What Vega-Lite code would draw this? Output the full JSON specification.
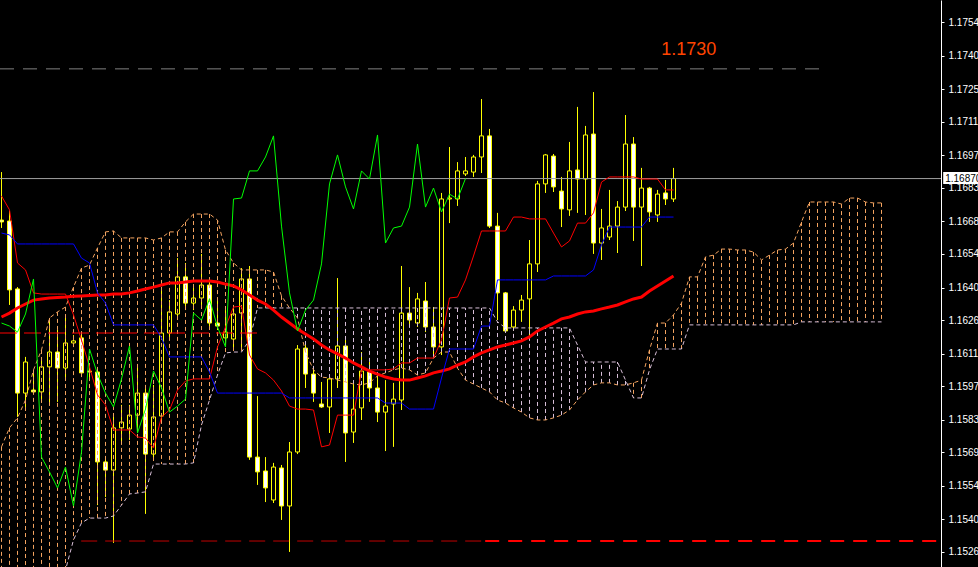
{
"$schema":"https://vega.github.io/schema/vega-lite/v6.json",
"width":941,"height":567,"autosize":"none",
"padding":{"left":0,"top":0,"right":37,"bottom":0},
"background":"#000000",
"config":{"view":{"stroke":null},"font":"Liberation Sans"},
"resolve":{"axis":{"y":"independent","x":"independent"}},
"datasets":{
"bars":[
{"k":0,"o":1.16691,"h":1.16898,"l":1.16657,"c":1.16683,"t":1.16795,"kj":1.16635,"ma":1.16273,"ch":1.16247},
{"k":1,"o":1.16687,"h":1.16730,"l":1.16325,"c":1.16390,"t":1.16735,"kj":1.16627,"ma":1.16290,"ch":1.16234},
{"k":2,"o":1.16394,"h":1.16402,"l":1.15842,"c":1.15945,"t":1.16506,"kj":1.16588,"ma":1.16312,"ch":1.16208},
{"k":3,"o":1.15945,"h":1.16101,"l":1.15885,"c":1.16079,"t":1.16476,"kj":1.16588,"ma":1.16329,"ch":1.16286},
{"k":4,"o":1.15958,"h":1.16036,"l":1.15945,"c":1.15950,"t":1.16377,"kj":1.16588,"ma":1.16346,"ch":1.16437},
{"k":5,"o":1.15950,"h":1.16088,"l":1.15907,"c":1.16058,"t":1.16372,"kj":1.16588,"ma":1.16351,"ch":1.15669},
{"k":6,"o":1.16058,"h":1.16260,"l":1.15902,"c":1.16122,"t":1.16372,"kj":1.16588,"ma":1.16355,"ch":1.15605},
{"k":7,"o":1.16122,"h":1.16217,"l":1.15907,"c":1.16053,"t":1.16372,"kj":1.16588,"ma":1.16357,"ch":1.15536},
{"k":8,"o":1.16053,"h":1.16282,"l":1.16001,"c":1.16161,"t":1.16372,"kj":1.16588,"ma":1.16359,"ch":1.15626},
{"k":9,"o":1.16161,"h":1.16195,"l":1.16152,"c":1.16170,"t":1.16282,"kj":1.16588,"ma":1.16362,"ch":1.15458},
{"k":10,"o":1.16183,"h":1.16204,"l":1.16019,"c":1.16032,"t":1.16174,"kj":1.16527,"ma":1.16364,"ch":1.15691},
{"k":11,"o":1.16040,"h":1.16066,"l":1.16010,"c":1.16036,"t":1.16058,"kj":1.16506,"ma":1.16366,"ch":1.16135},
{"k":12,"o":1.16036,"h":1.16053,"l":1.15462,"c":1.15648,"t":1.15937,"kj":1.16377,"ma":1.16368,"ch":1.16027},
{"k":13,"o":1.15648,"h":1.15665,"l":1.15497,"c":1.15613,"t":1.15894,"kj":1.16333,"ma":1.16368,"ch":1.15945},
{"k":14,"o":1.15613,"h":1.15842,"l":1.15299,"c":1.15795,"t":1.15786,"kj":1.16239,"ma":1.16372,"ch":1.15885},
{"k":15,"o":1.15795,"h":1.15894,"l":1.15730,"c":1.15820,"t":1.15786,"kj":1.16239,"ma":1.16372,"ch":1.16006},
{"k":16,"o":1.15790,"h":1.15894,"l":1.15743,"c":1.15850,"t":1.15786,"kj":1.16239,"ma":1.16377,"ch":1.16148},
{"k":17,"o":1.15850,"h":1.16066,"l":1.15773,"c":1.15945,"t":1.15756,"kj":1.16239,"ma":1.16385,"ch":1.15773},
{"k":18,"o":1.15945,"h":1.15980,"l":1.15424,"c":1.15682,"t":1.15751,"kj":1.16239,"ma":1.16394,"ch":1.15876},
{"k":19,"o":1.15682,"h":1.15980,"l":1.15665,"c":1.15842,"t":1.15708,"kj":1.16239,"ma":1.16402,"ch":1.16040},
{"k":20,"o":1.15846,"h":1.16402,"l":1.15829,"c":1.16204,"t":1.15842,"kj":1.16183,"ma":1.16411,"ch":1.15967},
{"k":21,"o":1.16204,"h":1.16346,"l":1.16174,"c":1.16295,"t":1.15872,"kj":1.16101,"ma":1.16420,"ch":1.15863},
{"k":22,"o":1.16286,"h":1.16527,"l":1.16260,"c":1.16446,"t":1.15958,"kj":1.16101,"ma":1.16420,"ch":1.15889},
{"k":23,"o":1.16446,"h":1.16506,"l":1.16303,"c":1.16333,"t":1.15997,"kj":1.16101,"ma":1.16424,"ch":1.15919},
{"k":24,"o":1.16333,"h":1.16411,"l":1.16303,"c":1.16355,"t":1.16006,"kj":1.16101,"ma":1.16428,"ch":1.16290},
{"k":25,"o":1.16355,"h":1.16545,"l":1.16325,"c":1.16411,"t":1.16006,"kj":1.16101,"ma":1.16428,"ch":1.16260},
{"k":26,"o":1.16411,"h":1.16433,"l":1.16217,"c":1.16247,"t":1.16006,"kj":1.16036,"ma":1.16428,"ch":1.16351},
{"k":27,"o":1.16247,"h":1.16346,"l":1.16217,"c":1.16234,"t":1.16144,"kj":1.15945,"ma":1.16424,"ch":1.16230},
{"k":28,"o":1.16183,"h":1.16303,"l":1.16152,"c":1.16208,"t":1.16230,"kj":1.15945,"ma":1.16415,"ch":1.16144},
{"k":29,"o":1.16178,"h":1.16325,"l":1.16131,"c":1.16286,"t":1.16316,"kj":1.15945,"ma":1.16407,"ch":1.16782},
{"k":30,"o":1.16290,"h":1.16484,"l":1.16139,"c":1.16437,"t":1.16320,"kj":1.15945,"ma":1.16390,"ch":1.16786},
{"k":31,"o":1.16437,"h":1.16493,"l":1.15657,"c":1.15669,"t":1.16109,"kj":1.15945,"ma":1.16368,"ch":1.16903},
{"k":32,"o":1.15669,"h":1.15932,"l":1.15549,"c":1.15605,"t":1.16049,"kj":1.15945,"ma":1.16346,"ch":1.16903},
{"k":33,"o":1.15609,"h":1.15669,"l":1.15475,"c":1.15536,"t":1.16032,"kj":1.15945,"ma":1.16329,"ch":1.16963},
{"k":34,"o":1.15484,"h":1.15644,"l":1.15471,"c":1.15626,"t":1.16001,"kj":1.15945,"ma":1.16303,"ch":1.17054},
{"k":35,"o":1.15622,"h":1.15635,"l":1.15398,"c":1.15458,"t":1.15954,"kj":1.15945,"ma":1.16273,"ch":1.16665},
{"k":36,"o":1.15458,"h":1.15734,"l":1.15260,"c":1.15691,"t":1.15889,"kj":1.15924,"ma":1.16247,"ch":1.16377},
{"k":37,"o":1.15691,"h":1.16152,"l":1.15682,"c":1.16135,"t":1.15876,"kj":1.15924,"ma":1.16221,"ch":1.16213},
{"k":38,"o":1.16139,"h":1.16152,"l":1.15967,"c":1.16027,"t":1.15876,"kj":1.15924,"ma":1.16200,"ch":1.16303},
{"k":39,"o":1.16027,"h":1.16053,"l":1.15907,"c":1.15945,"t":1.15872,"kj":1.15924,"ma":1.16178,"ch":1.16346},
{"k":40,"o":1.15898,"h":1.15993,"l":1.15881,"c":1.15885,"t":1.15713,"kj":1.15924,"ma":1.16152,"ch":1.16502},
{"k":41,"o":1.15885,"h":1.16023,"l":1.15773,"c":1.16006,"t":1.15721,"kj":1.15924,"ma":1.16131,"ch":1.16847},
{"k":42,"o":1.16006,"h":1.16441,"l":1.15967,"c":1.16148,"t":1.15850,"kj":1.15924,"ma":1.16114,"ch":1.16972},
{"k":43,"o":1.16148,"h":1.16174,"l":1.15648,"c":1.15773,"t":1.15850,"kj":1.15924,"ma":1.16096,"ch":1.16834},
{"k":44,"o":1.15777,"h":1.15989,"l":1.15730,"c":1.15876,"t":1.15850,"kj":1.15924,"ma":1.16075,"ch":1.16739},
{"k":45,"o":1.15881,"h":1.16122,"l":1.15829,"c":1.16040,"t":1.16045,"kj":1.15924,"ma":1.16058,"ch":1.16903},
{"k":46,"o":1.16036,"h":1.16079,"l":1.15907,"c":1.15967,"t":1.16045,"kj":1.15924,"ma":1.16040,"ch":1.16868},
{"k":47,"o":1.15967,"h":1.16023,"l":1.15820,"c":1.15863,"t":1.16045,"kj":1.15924,"ma":1.16027,"ch":1.17058},
{"k":48,"o":1.15863,"h":1.16001,"l":1.15695,"c":1.15889,"t":1.16045,"kj":1.15902,"ma":1.16014,"ch":1.16592},
{"k":49,"o":1.15898,"h":1.15989,"l":1.15713,"c":1.15919,"t":1.16049,"kj":1.15902,"ma":1.16006,"ch":1.16657},
{"k":50,"o":1.15915,"h":1.16493,"l":1.15872,"c":1.16290,"t":1.16075,"kj":1.15902,"ma":1.16001,"ch":1.16665},
{"k":51,"o":1.16290,"h":1.16402,"l":1.16230,"c":1.16260,"t":1.16075,"kj":1.15876,"ma":1.16001,"ch":1.16747},
{"k":52,"o":1.16247,"h":1.16377,"l":1.16230,"c":1.16351,"t":1.16096,"kj":1.15876,"ma":1.16010,"ch":1.17019},
{"k":53,"o":1.16342,"h":1.16424,"l":1.16208,"c":1.16230,"t":1.16096,"kj":1.15876,"ma":1.16019,"ch":1.16747},
{"k":54,"o":1.16230,"h":1.16316,"l":1.16109,"c":1.16144,"t":1.16096,"kj":1.15876,"ma":1.16032,"ch":1.16829},
{"k":55,"o":1.16144,"h":1.16808,"l":1.16109,"c":1.16782,"t":1.16174,"kj":1.16010,"ma":1.16040,"ch":1.16726},
{"k":56,"o":1.16782,"h":1.17006,"l":1.16678,"c":1.16786,"t":1.16355,"kj":1.16135,"ma":1.16049,"ch":1.16803},
{"k":57,"o":1.16782,"h":1.16941,"l":1.16752,"c":1.16903,"t":1.16359,"kj":1.16135,"ma":1.16066,"ch":1.16782},
{"k":58,"o":1.16890,"h":1.16963,"l":1.16881,"c":1.16903,"t":1.16433,"kj":1.16135,"ma":1.16079,"ch":1.16870},
{"k":59,"o":1.16898,"h":1.16972,"l":1.16877,"c":1.16963,"t":1.16536,"kj":1.16135,"ma":1.16101},
{"k":60,"o":1.16963,"h":1.17213,"l":1.16894,"c":1.17054,"t":1.16644,"kj":1.16234,"ma":1.16118},
{"k":61,"o":1.17054,"h":1.17084,"l":1.16657,"c":1.16665,"t":1.16644,"kj":1.16234,"ma":1.16131},
{"k":62,"o":1.16665,"h":1.16722,"l":1.16260,"c":1.16377,"t":1.16644,"kj":1.16433,"ma":1.16144},
{"k":63,"o":1.16377,"h":1.16381,"l":1.16204,"c":1.16213,"t":1.16644,"kj":1.16433,"ma":1.16152},
{"k":64,"o":1.16230,"h":1.16320,"l":1.16213,"c":1.16303,"t":1.16704,"kj":1.16433,"ma":1.16161},
{"k":65,"o":1.16303,"h":1.16368,"l":1.16252,"c":1.16346,"t":1.16704,"kj":1.16433,"ma":1.16170},
{"k":66,"o":1.16351,"h":1.16605,"l":1.16187,"c":1.16502,"t":1.16696,"kj":1.16433,"ma":1.16187},
{"k":67,"o":1.16502,"h":1.16860,"l":1.16467,"c":1.16847,"t":1.16696,"kj":1.16433,"ma":1.16213},
{"k":68,"o":1.16847,"h":1.16976,"l":1.16808,"c":1.16972,"t":1.16696,"kj":1.16433,"ma":1.16230},
{"k":69,"o":1.16967,"h":1.16976,"l":1.16812,"c":1.16834,"t":1.16635,"kj":1.16450,"ma":1.16247},
{"k":70,"o":1.16816,"h":1.16877,"l":1.16661,"c":1.16739,"t":1.16575,"kj":1.16450,"ma":1.16265},
{"k":71,"o":1.16735,"h":1.17028,"l":1.16709,"c":1.16903,"t":1.16601,"kj":1.16450,"ma":1.16273},
{"k":72,"o":1.16907,"h":1.17179,"l":1.16722,"c":1.16868,"t":1.16678,"kj":1.16450,"ma":1.16286},
{"k":73,"o":1.16868,"h":1.17097,"l":1.16713,"c":1.17058,"t":1.16678,"kj":1.16450,"ma":1.16295},
{"k":74,"o":1.17062,"h":1.17243,"l":1.16545,"c":1.16592,"t":1.16722,"kj":1.16476,"ma":1.16299},
{"k":75,"o":1.16592,"h":1.16739,"l":1.16519,"c":1.16657,"t":1.16855,"kj":1.16584,"ma":1.16308},
{"k":76,"o":1.16618,"h":1.16821,"l":1.16605,"c":1.16665,"t":1.16877,"kj":1.16661,"ma":1.16316},
{"k":77,"o":1.16665,"h":1.16773,"l":1.16549,"c":1.16747,"t":1.16877,"kj":1.16661,"ma":1.16325},
{"k":78,"o":1.16747,"h":1.17144,"l":1.16730,"c":1.17019,"t":1.16877,"kj":1.16661,"ma":1.16338},
{"k":79,"o":1.17019,"h":1.17049,"l":1.16601,"c":1.16747,"t":1.16877,"kj":1.16661,"ma":1.16351},
{"k":80,"o":1.16747,"h":1.16916,"l":1.16493,"c":1.16829,"t":1.16868,"kj":1.16661,"ma":1.16359},
{"k":81,"o":1.16829,"h":1.16834,"l":1.16683,"c":1.16726,"t":1.16868,"kj":1.16704,"ma":1.16385},
{"k":82,"o":1.16713,"h":1.16821,"l":1.16683,"c":1.16803,"t":1.16868,"kj":1.16704,"ma":1.16407},
{"k":83,"o":1.16808,"h":1.16864,"l":1.16756,"c":1.16782,"t":1.16821,"kj":1.16704,"ma":1.16428},
{"k":84,"o":1.16782,"h":1.16916,"l":1.16769,"c":1.16870,"t":1.16821,"kj":1.16704,"ma":1.16450}
],
"cloud":[
{"k":0,"a":1.15713,"b":1.15053},{"k":1,"a":1.15795,"b":1.15053},{"k":2,"a":1.15838,"b":1.15053},{"k":3,"a":1.15915,"b":1.15053},
{"k":4,"a":1.16045,"b":1.15053},{"k":5,"a":1.16131,"b":1.15053},{"k":6,"a":1.16269,"b":1.15053},{"k":7,"a":1.16295,"b":1.15053},
{"k":8,"a":1.16316,"b":1.15182},{"k":9,"a":1.16402,"b":1.15312},{"k":10,"a":1.16484,"b":1.15385},{"k":11,"a":1.16497,"b":1.15406},
{"k":12,"a":1.16571,"b":1.15406},{"k":13,"a":1.16640,"b":1.15406},{"k":14,"a":1.16644,"b":1.15415},{"k":15,"a":1.16614,"b":1.15462},
{"k":16,"a":1.16614,"b":1.15510},{"k":17,"a":1.16614,"b":1.15514},{"k":18,"a":1.16614,"b":1.15519},{"k":19,"a":1.16605,"b":1.15639},
{"k":20,"a":1.16614,"b":1.15639},{"k":21,"a":1.16640,"b":1.15639},{"k":22,"a":1.16640,"b":1.15639},{"k":23,"a":1.16683,"b":1.15639},
{"k":24,"a":1.16717,"b":1.15644},{"k":25,"a":1.16717,"b":1.15807},{"k":26,"a":1.16717,"b":1.15915},{"k":27,"a":1.16691,"b":1.16023},
{"k":28,"a":1.16562,"b":1.16118},{"k":29,"a":1.16506,"b":1.16122},{"k":30,"a":1.16476,"b":1.16122},{"k":31,"a":1.16476,"b":1.16174},
{"k":32,"a":1.16476,"b":1.16312},{"k":33,"a":1.16476,"b":1.16312},{"k":34,"a":1.16467,"b":1.16312},{"k":35,"a":1.16364,"b":1.16312},
{"k":36,"a":1.16312,"b":1.16312},{"k":37,"a":1.16269,"b":1.16312},{"k":38,"a":1.16122,"b":1.16312},{"k":39,"a":1.16045,"b":1.16312},
{"k":40,"a":1.16014,"b":1.16312},{"k":41,"a":1.16010,"b":1.16312},{"k":42,"a":1.16001,"b":1.16312},{"k":43,"a":1.15993,"b":1.16312},
{"k":44,"a":1.15984,"b":1.16312},{"k":45,"a":1.15980,"b":1.16312},{"k":46,"a":1.15989,"b":1.16312},{"k":47,"a":1.16019,"b":1.16312},
{"k":48,"a":1.16032,"b":1.16312},{"k":49,"a":1.16045,"b":1.16312},{"k":50,"a":1.16053,"b":1.16312},{"k":51,"a":1.16045,"b":1.16312},
{"k":52,"a":1.16023,"b":1.16312},{"k":53,"a":1.16032,"b":1.16312},{"k":54,"a":1.16096,"b":1.16312},{"k":55,"a":1.16122,"b":1.16312},
{"k":56,"a":1.16122,"b":1.16312},{"k":57,"a":1.16053,"b":1.16312},{"k":58,"a":1.16001,"b":1.16312},{"k":59,"a":1.15984,"b":1.16312},
{"k":60,"a":1.15967,"b":1.16312},{"k":61,"a":1.15950,"b":1.16312},{"k":62,"a":1.15915,"b":1.16252},{"k":63,"a":1.15902,"b":1.16226},
{"k":64,"a":1.15881,"b":1.16226},{"k":65,"a":1.15863,"b":1.16226},{"k":66,"a":1.15838,"b":1.16226},{"k":67,"a":1.15829,"b":1.16226},
{"k":68,"a":1.15829,"b":1.16226},{"k":69,"a":1.15838,"b":1.16226},{"k":70,"a":1.15850,"b":1.16226},{"k":71,"a":1.15872,"b":1.16226},
{"k":72,"a":1.15915,"b":1.16152},{"k":73,"a":1.15950,"b":1.16079},{"k":74,"a":1.15980,"b":1.16079},{"k":75,"a":1.15989,"b":1.16079},
{"k":76,"a":1.15989,"b":1.16079},{"k":77,"a":1.15980,"b":1.16079},{"k":78,"a":1.15980,"b":1.16001},{"k":79,"a":1.15989,"b":1.15924},
{"k":80,"a":1.16001,"b":1.15924},{"k":81,"a":1.16131,"b":1.16045},{"k":82,"a":1.16247,"b":1.16135},{"k":83,"a":1.16247,"b":1.16135},
{"k":84,"a":1.16282,"b":1.16135},{"k":85,"a":1.16333,"b":1.16135},{"k":86,"a":1.16446,"b":1.16239},{"k":87,"a":1.16446,"b":1.16239},
{"k":88,"a":1.16532,"b":1.16239},{"k":89,"a":1.16540,"b":1.16239},{"k":90,"a":1.16566,"b":1.16239},{"k":91,"a":1.16566,"b":1.16239},
{"k":92,"a":1.16562,"b":1.16239},{"k":93,"a":1.16562,"b":1.16239},{"k":94,"a":1.16553,"b":1.16239},{"k":95,"a":1.16519,"b":1.16239},
{"k":96,"a":1.16540,"b":1.16239},{"k":97,"a":1.16562,"b":1.16239},{"k":98,"a":1.16566,"b":1.16239},{"k":99,"a":1.16592,"b":1.16239},
{"k":100,"a":1.16683,"b":1.16252},{"k":101,"a":1.16769,"b":1.16252},{"k":102,"a":1.16769,"b":1.16252},{"k":103,"a":1.16769,"b":1.16252},
{"k":104,"a":1.16769,"b":1.16252},{"k":105,"a":1.16760,"b":1.16252},{"k":106,"a":1.16786,"b":1.16252},{"k":107,"a":1.16786,"b":1.16252},
{"k":108,"a":1.16769,"b":1.16252},{"k":109,"a":1.16765,"b":1.16252},{"k":110,"a":1.16765,"b":1.16252}
]
},
"layer":[
{"data":{"name":"bars"},"mark":{"type":"rule","color":"#FFFF00","strokeWidth":1,"clip":true},
 "encoding":{"x":{"field":"k","type":"quantitative","scale":{"domain":[-0.1875,117.4375],"nice":false,"zero":false,"padding":0},"axis":null},
 "y":{"field":"l","type":"quantitative","scale":{"domain":[1.15195,1.1764],"nice":false,"zero":false,"padding":0},"axis":null},
 "y2":{"field":"h"}}},
{"data":{"name":"bars"},"mark":{"type":"bar","width":4,"stroke":"#FFFF00","strokeWidth":1,"clip":true},
 "encoding":{"x":{"field":"k","type":"quantitative","axis":null},"y":{"field":"o","type":"quantitative","axis":null},"y2":{"field":"c"},
 "fill":{"condition":{"test":"datum.c < datum.o","value":"#FFFFFF"},"value":"#000000"}}},
{"data":{"name":"cloud"},"mark":{"type":"rule","strokeWidth":1,"strokeDash":[4,3],"clip":true},
 "encoding":{"x":{"field":"k","type":"quantitative","axis":null},"y":{"field":"a","type":"quantitative","axis":null},"y2":{"field":"b"},
 "color":{"condition":{"test":"datum.a > datum.b","value":"#F4A460"},"value":"#D8BFD8"}}},
{"data":{"name":"cloud"},"mark":{"type":"line","stroke":"#F4A460","strokeWidth":1,"strokeDash":[4,3],"clip":true},
 "encoding":{"x":{"field":"k","type":"quantitative","axis":null},"y":{"field":"a","type":"quantitative","axis":null}}},
{"data":{"name":"cloud"},"mark":{"type":"line","stroke":"#D8BFD8","strokeWidth":1,"strokeDash":[4,3],"clip":true},
 "encoding":{"x":{"field":"k","type":"quantitative","axis":null},"y":{"field":"b","type":"quantitative","axis":null}}},
{"data":{"values":[{"k1":-0.1875,"k2":102.96,"p":1.17343}]},"mark":{"type":"rule","color":"#808080","strokeWidth":1,"strokeDash":[14,9]},
 "encoding":{"x":{"field":"k1","type":"quantitative","axis":null},"x2":{"field":"k2"},"y":{"field":"p","type":"quantitative","axis":null}}},
{"data":{"values":[{"k1":9.96,"k2":60.46,"p":1.15307}]},"mark":{"type":"rule","color":"#C00000","strokeWidth":1,"strokeDash":[16,8]},
 "encoding":{"x":{"field":"k1","type":"quantitative","axis":null},"x2":{"field":"k2"},"y":{"field":"p","type":"quantitative","axis":null}}},
{"data":{"values":[{"k1":60.46,"k2":117.4375,"p":1.15307}]},"mark":{"type":"rule","color":"#FF0000","strokeWidth":2,"strokeDash":[14,9]},
 "encoding":{"x":{"field":"k1","type":"quantitative","axis":null},"x2":{"field":"k2"},"y":{"field":"p","type":"quantitative","axis":null}}},
{"data":{"values":[{"k1":-0.1875,"k2":32.1,"p":1.16204}]},"mark":{"type":"rule","color":"#FF0000","strokeWidth":1,"strokeDash":[17,7]},
 "encoding":{"x":{"field":"k1","type":"quantitative","axis":null},"x2":{"field":"k2"},"y":{"field":"p","type":"quantitative","axis":null}}},
{"data":{"values":[{"k1":-0.1875,"k2":117.4375,"p":1.1687}]},"mark":{"type":"rule","color":"#A0A0A0","strokeWidth":1},
 "encoding":{"x":{"field":"k1","type":"quantitative","axis":null},"x2":{"field":"k2"},"y":{"field":"p","type":"quantitative","axis":null}}},
{"data":{"name":"bars"},"mark":{"type":"line","stroke":"#FF0000","strokeWidth":3,"clip":true},
 "encoding":{"x":{"field":"k","type":"quantitative","axis":null},"y":{"field":"ma","type":"quantitative","axis":null}}},
{"data":{"name":"bars"},"mark":{"type":"line","stroke":"#FF0000","strokeWidth":1,"clip":true},
 "encoding":{"x":{"field":"k","type":"quantitative","axis":null},"y":{"field":"t","type":"quantitative","axis":null}}},
{"data":{"name":"bars"},"mark":{"type":"line","stroke":"#0000FF","strokeWidth":1,"clip":true},
 "encoding":{"x":{"field":"k","type":"quantitative","axis":null},"y":{"field":"kj","type":"quantitative","axis":null}}},
{"data":{"name":"bars"},"transform":[{"filter":"isValid(datum.ch)"}],"mark":{"type":"line","stroke":"#00FF00","strokeWidth":1,"clip":true},
 "encoding":{"x":{"field":"k","type":"quantitative","axis":null},"y":{"field":"ch","type":"quantitative","axis":null}}},
{"data":{"values":[{"k":85.9,"p":1.17424,"label":"1.1730"}]},"mark":{"type":"text","color":"#FF4500","font":"Liberation Sans","fontSize":18,"align":"center","baseline":"middle"},
 "encoding":{"x":{"field":"k","type":"quantitative","axis":null},"y":{"field":"p","type":"quantitative","axis":null},"text":{"field":"label"}}},
{"data":{"values":[{"v":1.17545},{"v":1.174},{"v":1.17255},{"v":1.17115},{"v":1.1697},{"v":1.1683},{"v":1.16685},{"v":1.16545},{"v":1.164},{"v":1.1626},{"v":1.16115},{"v":1.15975},{"v":1.1583},{"v":1.1569},{"v":1.15545},{"v":1.154},{"v":1.1526}]},
 "mark":{"type":"tick","opacity":0},
 "encoding":{"y":{"field":"v","type":"quantitative",
  "axis":{"orient":"right","title":null,"values":[1.17545,1.174,1.17255,1.17115,1.1697,1.1683,1.16685,1.16545,1.164,1.1626,1.16115,1.15975,1.1583,1.1569,1.15545,1.154,1.1526],
   "format":".5f","domainColor":"#FFFFFF","domainWidth":1,"tickColor":"#FFFFFF","tickSize":3,"labelPadding":4,"labelColor":"#FFFFFF","labelFont":"Liberation Sans","labelFontSize":10,"grid":false,"labelOverlap":false,"labelFlush":false}}}},
{"data":{"values":[{"k1":117.71,"k2":125,"p1":1.16898,"p2":1.16847}]},"mark":{"type":"rect","fill":"#FFFFFF"},
 "encoding":{"x":{"field":"k1","type":"quantitative","axis":null},"x2":{"field":"k2"},"y":{"field":"p1","type":"quantitative","axis":null},"y2":{"field":"p2"}}},
{"data":{"values":[{"k":117.96,"p":1.1687,"label":"1.16870"}]},"mark":{"type":"text","color":"#000000","font":"Liberation Sans","fontSize":10,"align":"left","baseline":"middle"},
 "encoding":{"x":{"field":"k","type":"quantitative","axis":null},"y":{"field":"p","type":"quantitative","axis":null},"text":{"field":"label"}}}
]
}
